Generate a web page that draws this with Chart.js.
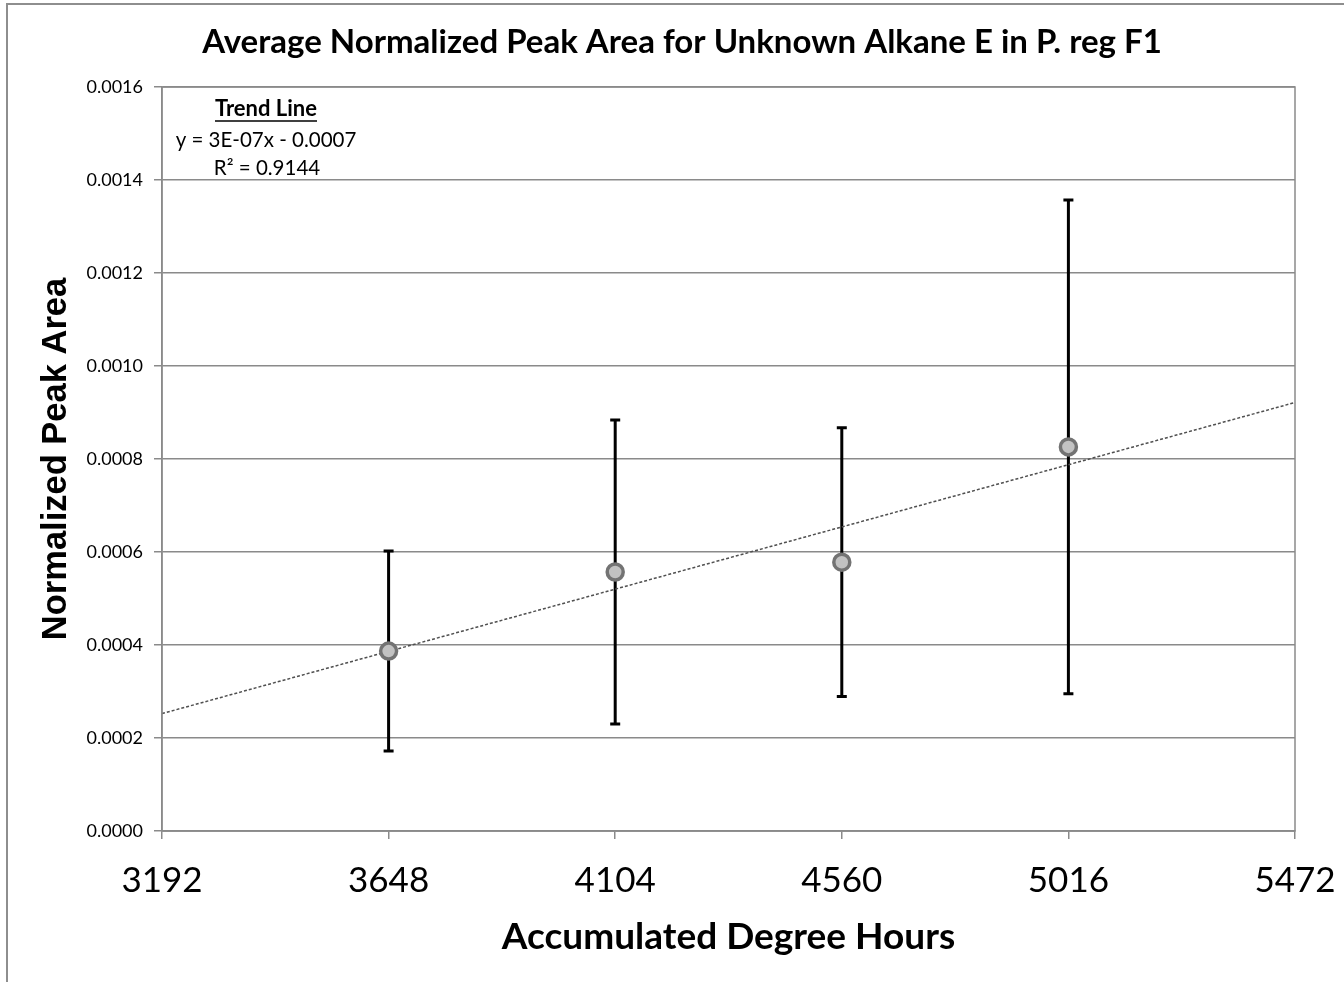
<!DOCTYPE html>
<html>
<head>
<meta charset="utf-8">
<title>Average Normalized Peak Area</title>
<script src="https://cdn.jsdelivr.net/npm/chart.js@4.4.1/dist/chart.umd.min.js"></script>
<style>
    html, body { margin: 0; padding: 0; background: #fff; overflow: hidden; }
    #frame {
        position: absolute; left: 6px; top: 3px; width: 1400px; height: 1000px;
        border-left: 2px solid #8e8e8e; border-top: 2px solid #8e8e8e;
    }
    #chart { position: absolute; left: 0; top: 0; }
</style>
</head>
<body>
<div id="frame"></div>
<canvas id="chart" width="1344" height="982"></canvas>
<script>
// ---- data ----
const hours = [3648, 4104, 4560, 5016];
const meanArea = [0.000387, 0.000557, 0.000578, 0.000826];
const stdDev = [0.000215, 0.000327, 0.000289, 0.000531];
const xTicks = [3192, 3648, 4104, 4560, 5016, 5472];
const yTicks = [0, 0.0002, 0.0004, 0.0006, 0.0008, 0.0010, 0.0012, 0.0014, 0.0016];
const chartTitle = 'Average Normalized Peak Area for Unknown Alkane E in P. reg F1';
const trendText = ['Trend Line', 'y = 3E-07x - 0.0007', 'R\u00B2 = 0.9144'];

const GRID = '#8a8a8a';
const BODY_FONT = 'Lato, "Open Sans", sans-serif';

// least squares fit of the means, drawn across the whole x range
function linearFit(xs, ys) {
    const n = xs.length;
    const mx = xs.reduce((a, b) => a + b, 0) / n;
    const my = ys.reduce((a, b) => a + b, 0) / n;
    let sxy = 0, sxx = 0;
    for (let i = 0; i < n; i++) {
        sxy += (xs[i] - mx) * (ys[i] - my);
        sxx += (xs[i] - mx) * (xs[i] - mx);
    }
    const slope = sxy / sxx;
    return { slope, intercept: my - slope * mx };
}
const fit = linearFit(hours, meanArea);
const xMin = xTicks[0];
const xMax = xTicks[xTicks.length - 1];
const trendPoints = [xMin, xMax].map(x => ({ x, y: fit.slope * x + fit.intercept }));

// vertical error bars (mean ± 1 sd) under the markers
const errorBars = {
    id: 'errorBars',
    beforeDatasetsDraw(chart) {
        const { ctx, scales: { x, y } } = chart;
        ctx.save();
        ctx.strokeStyle = '#000';
        ctx.lineWidth = 3;
        hours.forEach((h, i) => {
            const px = x.getPixelForValue(h);
            const top = y.getPixelForValue(meanArea[i] + stdDev[i]);
            const bot = y.getPixelForValue(meanArea[i] - stdDev[i]);
            ctx.beginPath();
            ctx.moveTo(px, top);
            ctx.lineTo(px, bot);
            ctx.moveTo(px - 5, top);
            ctx.lineTo(px + 5, top);
            ctx.moveTo(px - 5, bot);
            ctx.lineTo(px + 5, bot);
            ctx.stroke();
        });
        ctx.restore();
    }
};

// title, box round the plot area and the trend line note
const plotFrame = {
    id: 'plotFrame',
    afterDraw(chart) {
        const { ctx, chartArea: a } = chart;
        ctx.save();
        ctx.strokeStyle = GRID;
        ctx.lineWidth = 1.5;
        ctx.strokeRect(a.left, a.top, a.right - a.left, a.bottom - a.top);

        ctx.fillStyle = '#000';
        ctx.textAlign = 'center';
        ctx.textBaseline = 'middle';
        ctx.font = 'bold 33px ' + BODY_FONT;
        ctx.fillText(chartTitle, 682, 42);

        const cx = a.left + 104;
        ctx.font = 'bold 22px ' + BODY_FONT;
        ctx.fillText(trendText[0], cx, a.top + 22);
        const w = ctx.measureText(trendText[0]).width;
        ctx.lineWidth = 1.5;
        ctx.strokeStyle = '#000';
        ctx.beginPath();
        ctx.moveTo(cx - w / 2, a.top + 34);
        ctx.lineTo(cx + w / 2, a.top + 34);
        ctx.stroke();
        ctx.font = '20.5px ' + BODY_FONT;
        ctx.fillText(trendText[1], cx, a.top + 53);
        ctx.fillText(trendText[2], cx + 1, a.top + 81);
        ctx.restore();
    }
};

new Chart(document.getElementById('chart').getContext('2d'), {
    type: 'scatter',
    data: {
        datasets: [
            {
                label: 'Mean',
                data: hours.map((h, i) => ({ x: h, y: meanArea[i] })),
                pointRadius: 8,
                pointBorderWidth: 3.5,
                pointBackgroundColor: '#c2c2c2',
                pointBorderColor: '#737373',
                showLine: false
            },
            {
                type: 'line',
                label: 'Trend',
                data: trendPoints,
                borderColor: '#505050',
                borderWidth: 1.5,
                borderDash: [3, 2],
                pointRadius: 0,
                fill: false
            }
        ]
    },
    options: {
        responsive: false,
        animation: false,
        layout: { padding: { left: 0, right: 49, top: 87, bottom: 0 } },
        scales: {
            x: {
                type: 'linear',
                min: xMin,
                max: xMax,
                afterBuildTicks: axis => { axis.ticks = xTicks.map(v => ({ value: v })); },
                afterFit: axis => {
                    axis.height = 151;
                    axis.paddingLeft = 0;
                    axis.paddingRight = 0;
                },
                grid: { drawOnChartArea: false, drawTicks: true, tickLength: 8, color: GRID, lineWidth: 1.5 },
                border: { color: GRID, width: 1.5 },
                ticks: {
                    color: '#000',
                    padding: 21,
                    font: { family: BODY_FONT, size: 35 },
                    callback: v => String(v)
                },
                title: {
                    display: true,
                    text: 'Accumulated Degree Hours',
                    color: '#000',
                    font: { family: BODY_FONT, size: 37, weight: 'bold' },
                    padding: { top: 0, bottom: 23 }
                }
            },
            y: {
                min: 0,
                max: 0.0016,
                afterBuildTicks: axis => { axis.ticks = yTicks.map(v => ({ value: v })); },
                afterFit: axis => {
                    axis.width = 162;
                    axis.paddingTop = 0;
                    axis.paddingBottom = 0;
                },
                grid: { color: GRID, lineWidth: 1.5, tickLength: 8 },
                border: { color: GRID, width: 1.5 },
                ticks: {
                    color: '#000',
                    padding: 11,
                    font: { family: BODY_FONT, size: 18 },
                    callback: v => v.toFixed(4)
                },
                title: {
                    display: true,
                    text: 'Normalized Peak Area',
                    color: '#000',
                    font: { family: '"Liberation Sans", Arial, sans-serif', size: 34.5, weight: 'bold' },
                    padding: { top: 36, bottom: 0 }
                }
            }
        },
        plugins: {
            legend: { display: false },
            tooltip: { enabled: false },
            title: { display: false }
        }
    },
    plugins: [errorBars, plotFrame]
});
</script>
</body>
</html>
